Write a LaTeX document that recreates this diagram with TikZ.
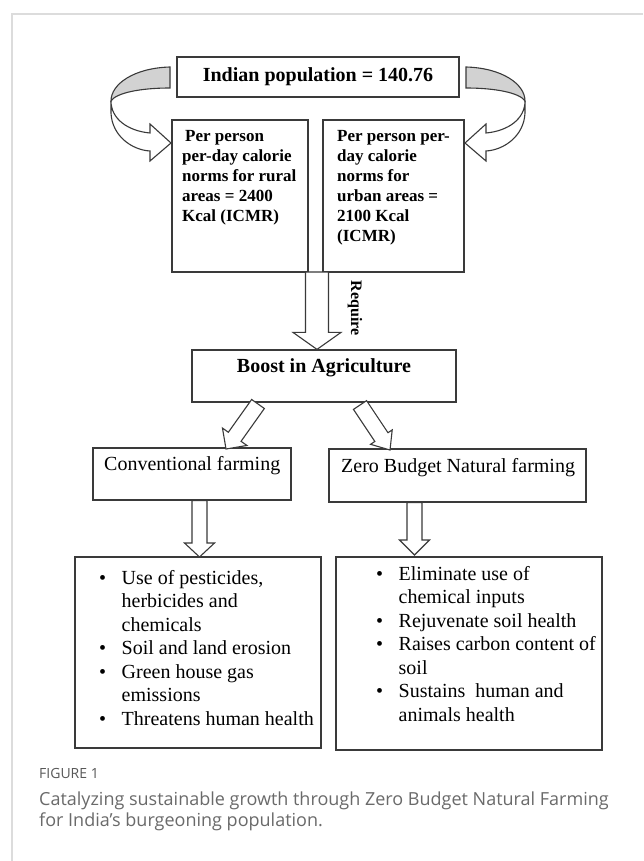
\documentclass[tikz,border=0pt]{standalone}
\usepackage{fontspec}
\setmainfont{Liberation Serif}
\newfontfamily\capfont{Open Sans}
\usetikzlibrary{calc}
\definecolor{bandgray}{HTML}{D2D2D2}
\definecolor{linec}{HTML}{3A3A3A}
\definecolor{capgray}{HTML}{6A6A6A}
\definecolor{labgray}{HTML}{585858}
\definecolor{framegray}{HTML}{DCDCDC}
\tikzset{
  box/.style={draw=linec, line width=1.2pt, fill=white, inner sep=0pt},
  arrline/.style={draw=linec, line width=1.1pt, fill=white, line join=miter},
  bandline/.style={draw=linec, line width=1.1pt},
  boldtxt/.style={inner sep=0pt, font=\bfseries\fontsize{17}{20}\selectfont, align=left},
  plaintxt/.style={inner sep=0pt, font=\fontsize{20}{23.5}\selectfont, align=left},
}
\newcommand\blockarr[5]{%
  \coordinate (bah) at ($(#2)!#5!(#1)$);
  \draw[arrline] ($(#1)!#3!90:(#2)$) -- ($(bah)!#3!90:(#2)$) -- ($(bah)!#4!90:(#2)$) -- (#2)
    -- ($(bah)!#4!-90:(#2)$) -- ($(bah)!#3!-90:(#2)$) -- ($(#1)!#3!-90:(#2)$) -- cycle;
}
\newcommand\bul{\makebox[22.5pt][l]{\textbullet}}
\newcommand\ind{\hspace*{22.5pt}}
\newcommand\curvedarr{%
  \draw[bandline, fill=bandgray] (170,67) .. controls (134,68) and (111,84) .. (111,101)
     .. controls (116,93) and (140,88) .. (170,88) -- cycle;
  \draw[arrline] (111,101) -- (111,113) .. controls (112,136) and (132,150) .. (150,151)
     -- (150,161) -- (171,143) -- (150,124) -- (150,133)
     .. controls (128,131) and (111,119) .. (111,101) -- cycle;
}
\begin{document}
\begin{tikzpicture}[x=1pt, y=-1pt]
\fill[white] (0,0) rectangle (643,861);
\useasboundingbox (0,0) rectangle (643,861);
\draw[framegray, line width=1.5pt] (12,861) -- (12,14) -- (643,14);

% top box
\node[box, minimum width=282pt, minimum height=40pt, font=\bfseries\fontsize{20}{24}\selectfont] (pop) at (318,77) {Indian population = 140.76};

% curved arrows
\curvedarr
\begin{scope}[xshift=636pt, xscale=-1]
\curvedarr
\end{scope}

% calorie boxes
\node[box, minimum width=136pt, minimum height=152pt] (rural) at (240,196) {};
\node[boldtxt, anchor=north west] (ruralt) at (182,130) {\hspace*{3pt}Per person\\per-day calorie\\norms for rural\\areas = 2400\\Kcal (ICMR)};
\node[box, minimum width=141pt, minimum height=152pt] (urban) at (393.5,196) {};
\node[boldtxt, anchor=north west] (urbant) at (337,130) {Per person per-\\day calorie\\norms for\\urban areas =\\2100 Kcal\\(ICMR)};

% boost box
\node[box, minimum width=264pt, minimum height=52pt] (boost) at (324,376) {};
\node[inner sep=0pt, font=\bfseries\fontsize{20}{24}\selectfont] (boostt) at (324,368) {Boost in Agriculture};

% require arrow
\coordinate (reqs) at (317,272);
\coordinate (reqe) at (reqs |- boost.north);
\blockarr{reqs}{reqe}{11.5pt}{24pt}{17pt}
\node[inner sep=0pt, rotate=-90, font=\bfseries\fontsize{16}{18}\selectfont] (req) at (355,308) {Require};

% farming boxes
\node[box, minimum width=198pt, minimum height=52pt] (conv) at (192,474) {};
\node[inner sep=0pt, anchor=west, font=\fontsize{20}{24}\selectfont] (convt) at (104,466) {Conventional farming};
\node[box, minimum width=257pt, minimum height=53pt] (zbnf) at (457.5,475.5) {};
\node[inner sep=0pt, anchor=west, font=\fontsize{20}{24}\selectfont] (zbnft) at (341,468) {Zero Budget Natural farming};

% diagonal arrows
\coordinate (d1s) at (258,404);
\coordinate (d1e) at (226,449);
\blockarr{d1s}{d1e}{7.8pt}{15pt}{15pt}
\coordinate (d2s) at (360,405);
\coordinate (d2e) at (390,450);
\blockarr{d2s}{d2e}{7.9pt}{13pt}{15.5pt}

% bottom boxes
\node[box, minimum width=246pt, minimum height=191pt] (cons) at (198,652.5) {};
\node[plaintxt, anchor=north west] (const) at (99,570) {\bul Use of pesticides,\\\ind herbicides and\\\ind chemicals\\\bul Soil and land erosion\\\bul Green house gas\\\ind emissions\\\bul Threatens human health};
\node[box, minimum width=266pt, minimum height=193pt] (pros) at (469,653.5) {};
\node[plaintxt, anchor=north west] (prost) at (376,566) {\bul Eliminate use of\\\ind chemical inputs\\\bul Rejuvenate soil health\\\bul Raises carbon content of\\\ind soil\\\bul Sustains\ \ human and\\\ind animals health};

% down arrows
\coordinate (v1s) at (199.5,500.6);
\coordinate (v1e) at (199.5,557);
\blockarr{v1s}{v1e}{7.5pt}{15pt}{14pt}
\coordinate (v2s) at (414.5,502.6);
\coordinate (v2e) at (414.5,555);
\blockarr{v2s}{v2e}{7.5pt}{15pt}{15pt}

% caption
\node[inner sep=0pt, anchor=west, font=\capfont\fontsize{14}{16}\selectfont, text=labgray] (figlab) at (39,773) {FIGURE 1};
\node[inner sep=0pt, anchor=north west, align=left, font=\capfont\fontsize{18}{20.5}\selectfont, text=capgray] (cap) at (39,792) {Catalyzing sustainable growth through Zero Budget Natural Farming\\for India’s burgeoning population.};
\end{tikzpicture}
\end{document}
